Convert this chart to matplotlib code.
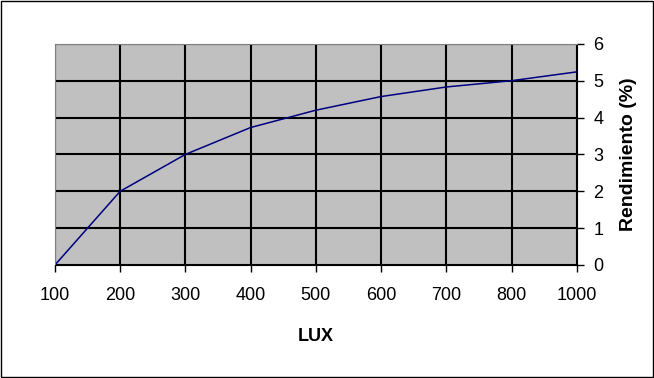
import matplotlib.pyplot as plt

lux = ['100', '200', '300', '400', '500', '600', '700', '800', '1000']
rendimiento = [0, 2.0, 3.0, 3.73, 4.2, 4.57, 4.83, 5.0, 5.24]

plt.rcParams['font.family'] = ['Liberation Sans', 'DejaVu Sans']

fig = plt.figure(figsize=(6.54, 3.78), dpi=100)
ax = fig.add_axes([0.084, 0.299, 0.798, 0.585])

x = list(range(len(lux)))
ax.plot(x, rendimiento, color='#000080', linewidth=1.1)

ax.set_facecolor('#c0c0c0')
ax.set_xlim(0, len(lux) - 1)
ax.set_ylim(0, 6)
ax.set_xticks(x)
ax.set_xticklabels(lux, fontsize=13)
ax.set_yticks(range(7))
ax.tick_params(axis='y', labelsize=13, direction='out', length=5, width=1, pad=7,
               left=False, right=True, labelleft=False, labelright=True)
ax.tick_params(axis='x', direction='out', length=5, width=1, pad=11)
ax.yaxis.set_label_position('right')
ax.grid(True, color='black', linewidth=1.5)

ax.spines['top'].set_color('#808080')
ax.spines['left'].set_color('#808080')
ax.spines['right'].set_color('black')
ax.spines['bottom'].set_color('black')

ax.set_xlabel('LUX', fontsize=13, fontweight='bold', labelpad=17)
ax.set_ylabel('Rendimiento (%)', fontsize=14, fontweight='bold', labelpad=12)

fig.patches.append(plt.Rectangle((0.002, 0.003), 0.996, 0.994, transform=fig.transFigure,
                                 fill=False, edgecolor='black', linewidth=1))

fig.savefig('out.png', dpi=100)
